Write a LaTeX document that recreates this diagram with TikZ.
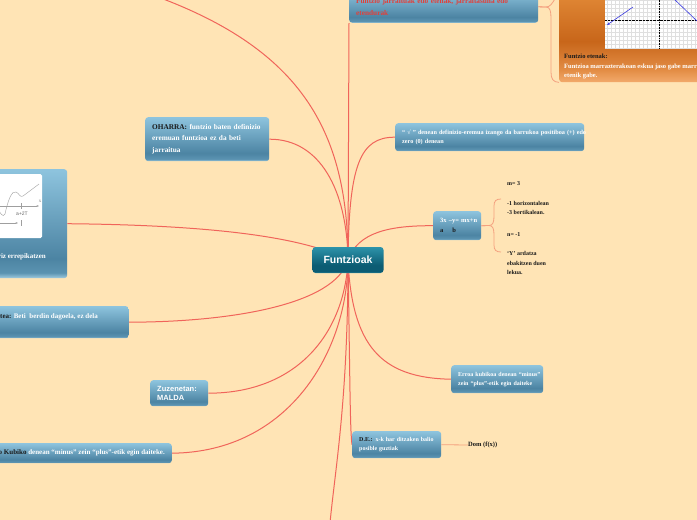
\documentclass[tikz,border=0pt]{standalone}
\usepackage{fontspec}
\setmainfont{Liberation Serif}
\newfontfamily\uisans{Liberation Sans}
\usetikzlibrary{arrows.meta}

\definecolor{bgcol}{HTML}{FFE4B5}
\definecolor{linecol}{HTML}{F0645A}
\definecolor{subcol}{HTML}{F4A07F}
\definecolor{bxtop}{HTML}{8EC4DE}
\definecolor{bxdark}{HTML}{4C84A3}
\definecolor{bxbot}{HTML}{5B93B1}
\definecolor{bxrim}{HTML}{A2CDE0}
\definecolor{rttop}{HTML}{2D93AA}
\definecolor{rtdark}{HTML}{0C5C73}
\definecolor{rtrim}{HTML}{3E9FB5}
\definecolor{ortop}{HTML}{E8923E}
\definecolor{ormid}{HTML}{C8661A}
\definecolor{orbot}{HTML}{E38D45}
\definecolor{orrim}{HTML}{F2AA6C}
\definecolor{redtxt}{HTML}{E2403A}
\definecolor{darktxt}{HTML}{1A1A1A}
\definecolor{plotblue}{HTML}{3A3AE0}

\pgfdeclareverticalshading{boxshade}{100bp}{color(0bp)=(bxrim); color(25bp)=(bxrim); color(27.5bp)=(bxbot); color(34bp)=(bxdark); color(75bp)=(bxtop); color(100bp)=(bxtop)}
\pgfdeclareverticalshading{rootshade}{100bp}{color(0bp)=(rtrim); color(25bp)=(rtrim); color(27.5bp)=(rtdark); color(40bp)=(rtdark); color(75bp)=(rttop); color(100bp)=(rttop)}
\pgfdeclareverticalshading{orshade}{100bp}{color(0bp)=(orrim); color(25bp)=(orrim); color(31bp)=(orbot); color(45bp)=(ormid); color(75bp)=(ortop); color(100bp)=(ortop)}

\pgfdeclarelayer{bgfill}
\pgfdeclarelayer{lines}
\pgfsetlayers{bgfill,lines,main}

\begin{document}
\begin{tikzpicture}[x=1pt,y=-1pt,
  box/.style={rounded corners=3pt, shade, shading=boxshade, text=white, align=left, inner xsep=7pt, inner ysep=4pt},
  rootbox/.style={rounded corners=3pt, shade, shading=rootshade, text=white, inner sep=0pt, minimum width=71pt, minimum height=26pt, font=\uisans\bfseries\fontsize{10.5pt}{12pt}\selectfont},
  mainline/.style={draw=linecol, line width=1pt},
  subline/.style={draw=subcol, line width=0.8pt},
  plaintext/.style={text=darktxt, align=left, inner sep=0pt, anchor=west, font=\bfseries\fontsize{6pt}{9.5pt}\selectfont},
  imgline/.style={draw=gray!75, line width=0.4pt}
]
\path[use as bounding box] (0,0) rectangle (697,520);
\begin{pgfonlayer}{bgfill}
\fill[bgcol] (0,0) rectangle (697,520);
\end{pgfonlayer}

% root
\node[rootbox] (root) at (348,260) {Funtzioak};

% top box
\node[box, anchor=south west, text width=175pt, minimum height=32pt, text=redtxt,
  font=\bfseries\fontsize{7.3pt}{12pt}\selectfont] (topbox) at (349,23)
  {\mbox{Funtzio jarraituak edo etenak, jarraitasuna edo}\\etendurak};

% orange box with picture
\node[anchor=north west, shade, shading=orshade, rounded corners=3pt, minimum width=160pt, minimum height=102pt, inner sep=0pt] (orange) at (559,-20) {};
\fill[white] (605,-10) rectangle (700,49);
\foreach \gx in {607,611,...,699} \draw[gray!25, line width=0.3pt] (\gx,-10) -- (\gx,49);
\foreach \gy in {-8,-4,...,48} \draw[gray!25, line width=0.3pt] (605,\gy) -- (700,\gy);
\draw[black, densely dotted, line width=0.6pt] (659,-10) -- (659,48);
\draw[black, densely dotted, line width=0.4pt] (605,20) -- (700,20);
\draw[plotblue, line width=0.6pt, -{Stealth[length=3pt]}] (633,7) -- (607,25);
\draw[plotblue, line width=0.6pt] (673,-2) -- (698,22);
\fill[plotblue] (644,-1) circle (1pt);
\node[anchor=north west, align=left, inner sep=0pt, text=white, font=\bfseries\fontsize{6.5pt}{9.5pt}\selectfont] (ortext) at (564,54)
  {{\color{darktxt}Funtzio etenak:}\\Funtzioa marrazterakoan eskua jaso gabe marrazten bada,\\etenik gabe.};

% OHARRA
\node[box, anchor=north west, text width=110pt, minimum height=44pt, font=\bfseries\fontsize{7.3pt}{11.5pt}\selectfont] (oharra) at (145,117)
  {\mbox{{\color{darktxt}OHARRA:} funtzio baten definizio}\\\mbox{eremuan funtzioa ez da beti}\\jarraitua};

% left box with picture
\node[box, anchor=north west, minimum width=220pt, minimum height=109pt] (leftbox) at (-153,169) {};
\fill[white, rounded corners=1.5pt] (-30,174) rectangle (42,238);
\draw[imgline, -{Stealth[length=2.5pt]}] (-5,206) -- (39,206);
\node[text=gray, inner sep=0pt, font=\fontsize{5pt}{5pt}\selectfont] (xlab) at (40,201) {x};
\draw[imgline] (21,203) -- (21,209);
\node[text=gray!80!black, inner sep=0pt, font=\uisans\fontsize{5pt}{5pt}\selectfont] (alab) at (22,214) {a+2T};
\draw[imgline, -{Stealth[length=2.5pt]}] (-5,223) -- (18,223);
\draw[imgline] (21,220) -- (21,226);
\draw[imgline] (-3,205) .. controls (0,214) and (3,218) .. (5,214) .. controls (8,200) and (12,190) .. (16,192) .. controls (19,193) and (20,198) .. (23,196) -- (39,184);
\node[anchor=east, inner sep=0pt, text=white, font=\bfseries\fontsize{7pt}{9pt}\selectfont] (lefttext) at (46,257) {berriz errepikatzen};

% konstantea
\node[box, anchor=north east, minimum width=200pt, minimum height=32pt] (konst) at (129,306) {};
\node[anchor=east, inner sep=0pt, text=white, font=\bfseries\fontsize{7pt}{9pt}\selectfont] (konsttext) at (98,317)
  {{\color{darktxt}Konstantea:} Beti\ \ berdin dagoela, ez dela};

% Zuzenetan
\node[box, anchor=north west, text width=44pt, minimum height=26pt, font=\uisans\bfseries\fontsize{7.5pt}{9pt}\selectfont] (zuzen) at (150,380)
  {Zuzenetan:\\MALDA};

% kubiko left
\node[box, anchor=north east, minimum width=250pt, minimum height=20pt] (kubiko) at (172,443) {};
\node[anchor=east, inner sep=0pt, text=white, font=\bfseries\fontsize{7pt}{9pt}\selectfont] (kubikotext) at (165,453)
  {{\color{darktxt}Erro Kubiko} denean “minus” zein “plus”-etik egin daiteke.};

% sqrt box
\node[box, anchor=north west, text width=175pt, minimum height=28pt, font=\bfseries\fontsize{6.2pt}{9pt}\selectfont] (sqrt) at (395,123)
  {\mbox{“ √ ” denean definizio-eremua izango da barrukoa positiboa (+) edo}\\zero (0) denean};

% linear
\node[box, anchor=north west, text width=34pt, minimum height=29pt, font=\bfseries\fontsize{6.5pt}{10pt}\selectfont] (linear) at (433,211)
  {\mbox{3x –y= mx+n}\\\mbox{\color{darktxt}a\hspace{9pt}b}};
\node[plaintext] (m3) at (507,184) {m= 3};
\node[plaintext] (hv) at (507,208) {-1 horizontalean\\-3 bertikalean.};
\node[plaintext] (n1) at (507,235) {n= -1};
\node[plaintext] (yax) at (507,263) {‘Y’ ardatza\\ebakitzen duen\\lekua.};

% errea
\node[box, anchor=north west, text width=78pt, minimum height=28pt, font=\bfseries\fontsize{6pt}{9pt}\selectfont] (errea) at (451,365)
  {\mbox{Erroa kubikoa denean “minus”}\\\mbox{zein “plus”-etik egin daiteke}};

% D.E.
\node[box, anchor=north west, text width=75pt, minimum height=27pt, font=\bfseries\fontsize{6pt}{9pt}\selectfont] (de) at (352,431)
  {\mbox{{\color{darktxt}D.E.:} x-k har ditzaken balio}\\posible guztiak};
\node[plaintext, font=\bfseries\fontsize{6.5pt}{8pt}\selectfont] (dom) at (468,445) {Dom (f(x))};

% free ends
\coordinate (tlEnd) at (158,-3);
\coordinate (botEnd) at (330,523);
\coordinate (trEnd) at (556,-3);
\coordinate (brTop) at (501,199);
\coordinate (brBot) at (501,252);

\begin{pgfonlayer}{lines}
\draw[mainline] (root.center) .. controls (348,130) and (300,50) .. (tlEnd);
\draw[mainline] (root.center) -- (topbox.south west);
\draw[mainline] (oharra.east) .. controls (320,139) and (347,190) .. (root.center);
\draw[mainline] (leftbox.east) .. controls (200,225) and (300,235) .. (root.center);
\draw[mainline] (konst.east) .. controls (230,322) and (335,305) .. (root.center);
\draw[mainline] (zuzen.east) .. controls (300,393) and (345,330) .. (root.center);
\draw[mainline] (kubiko.east) .. controls (290,452) and (348,350) .. (root.center);
\draw[mainline] (root.center) .. controls (348,400) and (335,470) .. (botEnd);
\draw[mainline] (root.center) .. controls (350,380) and (350,430) .. (de.west);
\draw[mainline] (root.center) .. controls (352,345) and (380,378) .. (errea.west);
\draw[mainline] (root.center) .. controls (349,165) and (360,137) .. (sqrt.west);
\draw[mainline] (root.center) .. controls (358,232) and (390,225.5) .. (linear.west);
\draw[subline] (linear.east) -- (489,225.5) .. controls (493,225.5) and (494,222) .. (494,216) -- (494,206) .. controls (494,201) and (496,199) .. (brTop);
\draw[subline] (linear.east) -- (489,225.5) .. controls (493,225.5) and (494,229) .. (494,235) -- (494,245) .. controls (494,250) and (496,252) .. (brBot);
\draw[subline] (topbox.east) -- (546,7) .. controls (550,7) and (552,4) .. (trEnd);
\draw[subline] (topbox.east) -- (546,7) .. controls (550,7) and (551,11) .. (551,18) -- (551,72) .. controls (551,79) and (553,82) .. (orange.south west);
\draw[subline] (de.east) -- (dom.west);
\end{pgfonlayer}
\end{tikzpicture}
\end{document}
